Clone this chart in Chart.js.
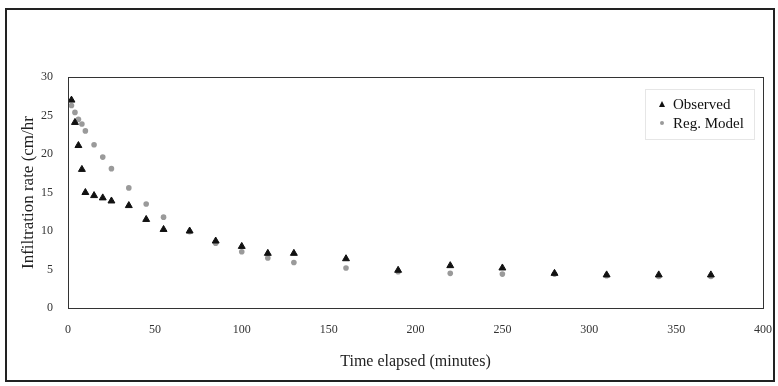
<!DOCTYPE html>
<html>
<head>
<meta charset="utf-8">
<script src="https://cdn.jsdelivr.net/npm/chart.js@4"></script>
<style>
  html, body { margin: 0; padding: 0; background: #fff; }
  #wrap { width: 778px; height: 386px; }
</style>
</head>
<body>
<div id="wrap"><canvas id="chart" width="778" height="386"></canvas></div>
<script>
// ── Data ───────────────────────────────────────────────────
const times    = [2, 4, 6, 8, 10, 15, 20, 25, 35, 45, 55, 70, 85, 100, 115, 130, 160, 190, 220, 250, 280, 310, 340, 370];
const observed = [27.0, 24.1, 21.1, 18.0, 15.0, 14.6, 14.3, 13.9, 13.3, 11.5, 10.2, 10.0, 8.7, 8.0, 7.1, 7.1, 6.4, 4.9, 5.5, 5.2, 4.5, 4.3, 4.3, 4.3];
const regModel = [26.3, 25.4, 24.5, 23.9, 23.0, 21.2, 19.6, 18.1, 15.6, 13.5, 11.8, 9.9, 8.4, 7.3, 6.5, 5.9, 5.2, 4.7, 4.5, 4.4, 4.4, 4.2, 4.1, 4.1];
const seriesNames = ['Observed', 'Reg. Model'];
const xTitle = 'Time elapsed (minutes)';
const yTitle = 'Infiltration rate (cm/hr';

const serif = '"Liberation Serif", "DejaVu Serif", serif';
const obsCol = '#111111';
const regCol = '#9a9a9a';

function toPoints(xs, ys) {
  return xs.map(function(x, i) { return { x: x, y: ys[i] }; });
}

// outer frame, plot box and legend
const framePlugin = {
  id: 'frame',
  afterDraw: function(chart) {
    const ctx = chart.ctx;
    const a = chart.chartArea;
    ctx.save();
    ctx.strokeStyle = '#222';
    ctx.lineWidth = 2;
    ctx.strokeRect(6, 9, 768, 372);
    ctx.lineWidth = 1;
    ctx.strokeStyle = '#333';
    ctx.strokeRect(a.left + 0.5, a.top + 0.5, a.right - a.left, a.bottom - a.top);

    // legend
    ctx.strokeStyle = '#e6e6e6';
    ctx.strokeRect(645.5, 89.5, 109, 50);
    ctx.fillStyle = obsCol;
    ctx.beginPath();
    ctx.moveTo(662, 101); ctx.lineTo(665, 107); ctx.lineTo(659, 107); ctx.closePath();
    ctx.fill();
    ctx.fillStyle = regCol;
    ctx.beginPath();
    ctx.arc(662, 123, 2, 0, Math.PI * 2);
    ctx.fill();
    ctx.fillStyle = '#111';
    ctx.font = '15px ' + serif;
    ctx.textBaseline = 'middle';
    ctx.fillText(seriesNames[0], 673, 105);
    ctx.fillText(seriesNames[1], 673, 124);
    ctx.restore();
  }
};

new Chart(document.getElementById('chart'), {
  type: 'scatter',
  data: {
    datasets: [
      {
        label: seriesNames[0],
        data: toPoints(times, observed),
        pointStyle: 'triangle',
        pointRadius: 4,
        backgroundColor: obsCol,
        borderColor: obsCol,
        borderWidth: 1,
      },
      {
        label: seriesNames[1],
        data: toPoints(times, regModel),
        pointStyle: 'circle',
        pointRadius: 2.8,
        backgroundColor: regCol,
        borderColor: regCol,
        borderWidth: 0,
      }
    ]
  },
  options: {
    responsive: false,
    animation: false,
    layout: { padding: { top: 77, right: 15, left: 0, bottom: 0 } },
    plugins: { legend: { display: false }, tooltip: { enabled: false } },
    scales: {
      x: {
        type: 'linear',
        min: 0, max: 400,
        grid: { display: false, drawTicks: false },
        border: { display: false },
        ticks: { stepSize: 50, padding: 15, color: '#333', font: { family: serif, size: 12 } },
        title: { display: true, text: xTitle, color: '#222', font: { family: serif, size: 16 }, padding: { bottom: 15 } },
        afterFit: function(s) { s.height = 78; s.paddingLeft = 0; s.paddingRight = 0; }
      },
      y: {
        min: 0, max: 30,
        grid: { display: false, drawTicks: false },
        border: { display: false },
        ticks: { stepSize: 5, padding: 15, color: '#333', font: { family: serif, size: 12 } },
        title: { display: true, text: yTitle, color: '#222', font: { family: serif, size: 17 }, padding: { top: 18 } },
        afterFit: function(s) { s.width = 68; s.paddingTop = 0; s.paddingBottom = 0; }
      }
    }
  },
  plugins: [framePlugin]
});
</script>
</body>
</html>
